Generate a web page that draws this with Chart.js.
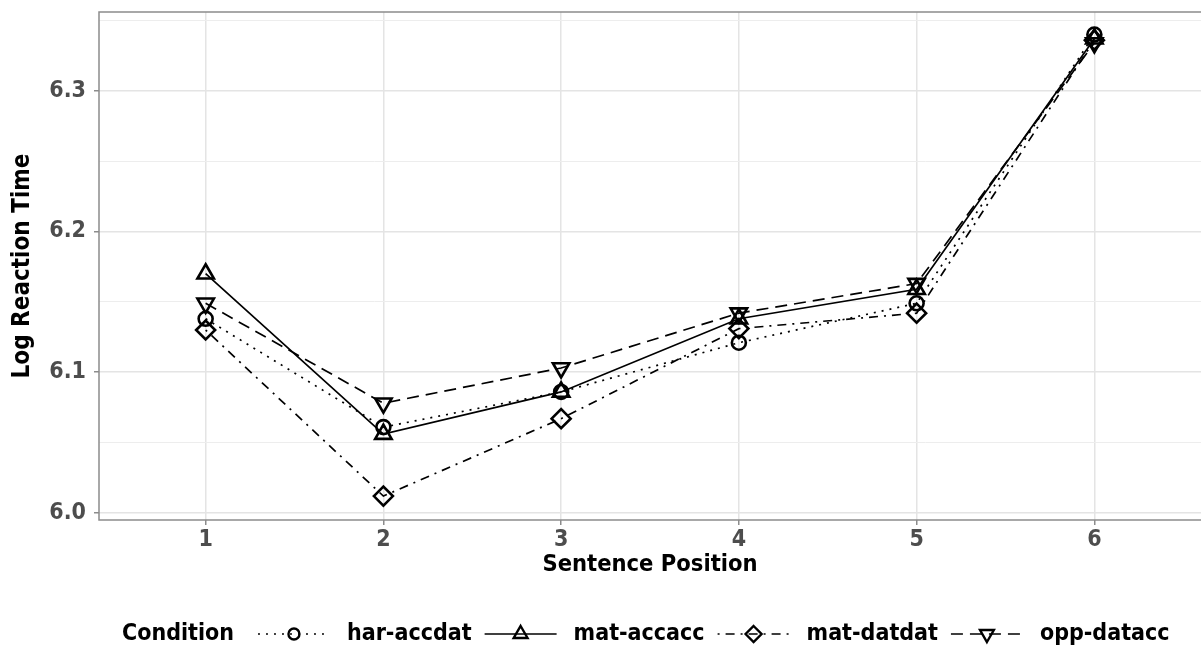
<!DOCTYPE html>
<html lang="en">
<head>
<meta charset="UTF-8">
<title>Log Reaction Time by Sentence Position</title>
<script src="https://cdn.jsdelivr.net/npm/chart.js"></script>
<style>
  body { margin: 0; background: #fff; }
</style>
</head>
<body>
<canvas id="chart" width="1201" height="650"></canvas>
<script>
  // values
  const positions = [1, 2, 3, 4, 5, 6];
  const conditions = ['har-accdat', 'mat-accacc', 'mat-datdat', 'opp-datacc'];
  const harAccdat = [6.138, 6.061, 6.086, 6.121, 6.149, 6.340];
  const matAccacc = [6.170, 6.056, 6.086, 6.138, 6.159, 6.337];
  const matDatdat = [6.130, 6.012, 6.067, 6.131, 6.142, 6.336];
  const oppDatacc = [6.149, 6.078, 6.103, 6.142, 6.163, 6.334];
  const yTicks = [6.0, 6.05, 6.1, 6.15, 6.2, 6.25, 6.3, 6.35];

  const FONT = "'DejaVu Sans Condensed', 'DejaVu Sans', sans-serif";

  // line type + shape per condition (ggplot style)
  const looks = [
    { dash: [2, 6], shape: 'circle', radius: 7, rot: 0 },
    { dash: [], shape: 'triangle', radius: 9.5, rot: 0 },
    { dash: [2, 6, 9, 6], shape: 'rectRot', radius: 9.5, rot: 0 },
    { dash: [12, 7], shape: 'triangle', radius: 9.5, rot: 180 }
  ];
  const seriesValues = [harAccdat, matAccacc, matDatdat, oppDatacc];

  const datasets = conditions.map((name, i) => ({
    label: name,
    data: positions.map((p, j) => ({ x: p, y: seriesValues[i][j] })),
    borderColor: '#000',
    borderWidth: 1.7,
    borderDash: looks[i].dash,
    pointStyle: looks[i].shape,
    pointRadius: looks[i].radius,
    pointRotation: looks[i].rot,
    pointBorderWidth: 2.6,
    pointBorderColor: '#000',
    pointBackgroundColor: 'rgba(0,0,0,0)',
    fill: false,
    tension: 0
  }));

  function isMajor(v) {
    return Math.abs(v * 10 - Math.round(v * 10)) < 1e-6;
  }

  function drawShape(ctx, shape, x, y, r, rot) {
    ctx.beginPath();
    if (shape === 'circle') {
      ctx.arc(x, y, r, 0, Math.PI * 2);
    } else if (shape === 'triangle') {
      const s = rot ? -1 : 1;
      ctx.moveTo(x, y - s * r);
      ctx.lineTo(x + r * 0.866, y + s * r * 0.5);
      ctx.lineTo(x - r * 0.866, y + s * r * 0.5);
      ctx.closePath();
    } else {
      ctx.moveTo(x, y - r);
      ctx.lineTo(x + r, y);
      ctx.lineTo(x, y + r);
      ctx.lineTo(x - r, y);
      ctx.closePath();
    }
    ctx.stroke();
  }

  const panelPlugin = {
    id: 'panel',
    beforeDatasetsDraw(chart) {
      const a = chart.chartArea;
      const ctx = chart.ctx;
      ctx.save();
      ctx.strokeStyle = '#8c8c8c';
      ctx.lineWidth = 1.5;
      ctx.strokeRect(a.left, a.top, a.right - a.left + 2, a.bottom - a.top);
      ctx.restore();
    },
    afterDraw(chart) {
      const ctx = chart.ctx;
      const y = 634;
      ctx.save();
      ctx.font = 'bold 23px ' + FONT;
      ctx.fillStyle = '#000';
      ctx.textBaseline = 'middle';
      ctx.textAlign = 'left';
      let x = 122;
      ctx.fillText('Condition', x, y);
      x += ctx.measureText('Condition').width + 24;
      conditions.forEach((name, i) => {
        const lk = looks[i];
        ctx.strokeStyle = '#000';
        ctx.lineWidth = 1.7;
        ctx.setLineDash(lk.dash);
        ctx.beginPath();
        ctx.moveTo(x, y);
        ctx.lineTo(x + 72, y);
        ctx.stroke();
        ctx.setLineDash([]);
        ctx.lineWidth = 2.4;
        drawShape(ctx, lk.shape, x + 36, y, lk.shape === 'circle' ? 5.5 : 8, lk.rot);
        x += 72 + 17;
        ctx.fillText(name, x, y);
        x += ctx.measureText(name).width + 13;
      });
      ctx.restore();
    }
  };

  new Chart(document.getElementById('chart'), {
    type: 'line',
    data: { datasets: datasets },
    options: {
      responsive: false,
      animation: false,
      layout: {
        autoPadding: false,
        padding: { left: 0, top: 12, right: 0, bottom: 60 }
      },
      plugins: {
        legend: { display: false },
        tooltip: { enabled: false }
      },
      scales: {
        x: {
          type: 'linear',
          min: 0.4,
          max: 6.6,
          afterFit(scale) {
            scale.height = 70;
            scale.paddingLeft = 0;
            scale.paddingRight = 0;
          },
          afterBuildTicks(scale) { scale.ticks = positions.map(v => ({ value: v })); },
          grid: {
            color: '#e4e4e4',
            lineWidth: 1.5,
            tickLength: 5,
            tickColor: '#8c8c8c',
            tickWidth: 1.5
          },
          border: { display: false },
          ticks: {
            padding: 1,
            color: '#4d4d4d',
            font: { family: FONT, size: 23, weight: 'bold' },
            callback: v => String(v)
          },
          title: {
            display: true,
            text: 'Sentence Position',
            color: '#000',
            padding: 11,
            font: { family: FONT, size: 23.5, weight: 'bold' }
          }
        },
        y: {
          type: 'linear',
          min: 5.995,
          max: 6.356,
          afterFit(scale) {
            scale.width = 99;
            scale.paddingTop = 0;
            scale.paddingBottom = 0;
          },
          afterBuildTicks(scale) { scale.ticks = yTicks.map(v => ({ value: v })); },
          grid: {
            color: ctx => isMajor(ctx.tick.value) ? '#e4e4e4' : '#ededed',
            lineWidth: ctx => isMajor(ctx.tick.value) ? 1.5 : 1,
            tickLength: 5,
            tickColor: ctx => isMajor(ctx.tick.value) ? '#8c8c8c' : 'rgba(0,0,0,0)',
            tickWidth: 1.5
          },
          border: { display: false },
          ticks: {
            padding: 8,
            color: '#4d4d4d',
            font: { family: FONT, size: 23, weight: 'bold' },
            callback: v => isMajor(v) ? v.toFixed(1) : ''
          },
          title: {
            display: true,
            text: 'Log Reaction Time',
            color: '#000',
            padding: 8,
            font: { family: FONT, size: 24, weight: 'bold' }
          }
        }
      }
    },
    plugins: [panelPlugin]
  });
</script>
</body>
</html>
